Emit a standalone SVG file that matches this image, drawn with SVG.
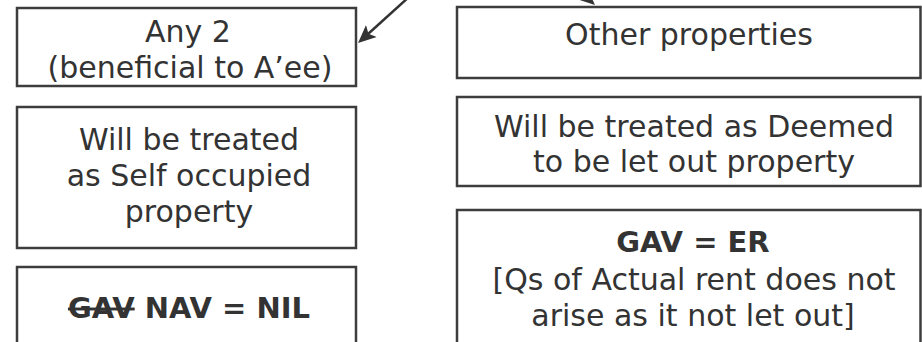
<svg xmlns="http://www.w3.org/2000/svg" width="922" height="342" viewBox="0 0 922 342">
  <style>
    .box { fill: #ffffff; stroke: #3d3d3d; stroke-width: 2.5; }
    .t { font-family: "DejaVu Sans", "Liberation Sans", sans-serif; font-size: 30px; fill: #333333; text-anchor: middle; }
    .b { font-weight: bold; font-size: 29px; }
    .arrow { stroke: #333333; stroke-width: 2.5; fill: none; marker-end: url(#head); }
  </style>
  <defs>
    <marker id="head" markerUnits="userSpaceOnUse" markerWidth="22" markerHeight="20" viewBox="0 -10 22 20" refX="12" refY="0" orient="auto">
      <path d="M18,0 L0,-8 L4,0 L0,8 Z" fill="#333333"/>
    </marker>
  </defs>
  <rect width="922" height="342" fill="#ffffff"/>

  <!-- connectors coming down from the parent node above -->
  <g id="connectors">
    <line class="arrow" x1="410" y1="-4" x2="362.5" y2="39"/>
    <line class="arrow" x1="543" y1="-42" x2="590.5" y2="1"/>
  </g>

  <!-- left column -->
  <g id="any-two">
    <rect class="box" x="17" y="8" width="339" height="78"/>
    <text class="t" x="188" y="42">Any 2</text>
    <text class="t" x="190" y="78">(beneficial to A’ee)</text>
  </g>
  <g id="self-occupied">
    <rect class="box" x="17" y="107" width="339" height="141"/>
    <text class="t" x="189" y="150">Will be treated</text>
    <text class="t" x="189" y="186">as Self occupied</text>
    <text class="t" x="189" y="222">property</text>
  </g>
  <g id="nav-nil">
    <rect class="box" x="17" y="267" width="339" height="100"/>
    <text class="t b" x="189" y="318"><tspan text-decoration="line-through">GAV</tspan> NAV = NIL</text>
  </g>

  <!-- right column -->
  <g id="other-properties">
    <rect class="box" x="457" y="7" width="463.5" height="71"/>
    <text class="t" x="689" y="45">Other properties</text>
  </g>
  <g id="deemed-let-out">
    <rect class="box" x="457" y="97" width="463.5" height="89"/>
    <text class="t" x="694" y="137">Will be treated as Deemed</text>
    <text class="t" x="694" y="172">to be let out property</text>
  </g>
  <g id="gav-er">
    <rect class="box" x="457" y="210" width="463.5" height="150"/>
    <text class="t b" x="693" y="252">GAV = ER</text>
    <text class="t" x="694" y="290">[Qs of Actual rent does not</text>
    <text class="t" x="693" y="326">arise as it not let out]</text>
  </g>
</svg>
